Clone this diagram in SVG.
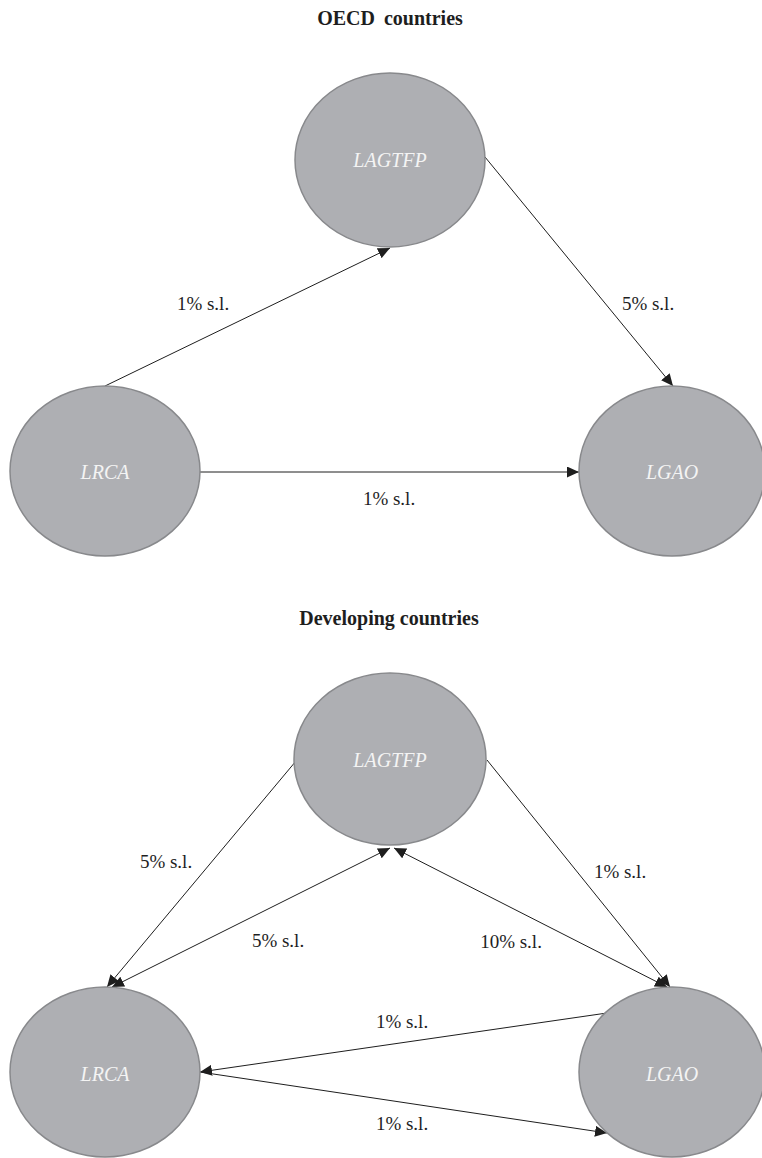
<svg xmlns="http://www.w3.org/2000/svg" width="762" height="1158" viewBox="0 0 762 1158">
<style>
.node ellipse{fill:#aeafb3;stroke:#88898c;stroke-width:1.5}
.node text{font-family:"Liberation Serif","Times New Roman",serif;font-style:italic;font-size:20px;fill:#f4f4f4;text-anchor:middle}
.title{font-family:"Liberation Serif","Times New Roman",serif;font-weight:bold;font-size:20px;fill:#1e1e1e;text-anchor:middle}
.lbl{font-family:"Liberation Serif","Times New Roman",serif;font-size:19px;fill:#1e1e1e;text-anchor:middle}
#connectors line{stroke:#1e1e1e;stroke-width:1}
</style>
<defs>
<marker id="ah" viewBox="0 0 12 11" refX="12" refY="5.5" markerWidth="12" markerHeight="11" markerUnits="userSpaceOnUse" orient="auto-start-reverse">
<path d="M0,0 L12,5.5 L0,11 Z" fill="#1e1e1e"/>
</marker>
</defs>
<rect width="762" height="1158" fill="#ffffff"/>
<text class="title" x="390" y="25" word-spacing="4">OECD countries</text>
<text class="title" x="389" y="625">Developing countries</text>

<g id="connectors">
<line x1="105" y1="386" x2="390" y2="248" marker-end="url(#ah)"/>
<line x1="485" y1="157" x2="673" y2="386" marker-end="url(#ah)"/>
<line x1="200" y1="472" x2="579" y2="472" marker-end="url(#ah)"/>
<line x1="296" y1="761" x2="107" y2="987" marker-end="url(#ah)"/>
<line x1="112" y1="987" x2="390" y2="848" marker-start="url(#ah)" marker-end="url(#ah)"/>
<line x1="487" y1="760" x2="670" y2="987" marker-end="url(#ah)"/>
<line x1="667" y1="987" x2="394" y2="848" marker-start="url(#ah)" marker-end="url(#ah)"/>
<line x1="607" y1="1013" x2="200" y2="1072" marker-end="url(#ah)"/>
<line x1="200" y1="1072" x2="607" y2="1133" marker-end="url(#ah)"/>
</g>

<g id="oecd-lagtfp" class="node"><ellipse cx="390" cy="160" rx="95" ry="87"/><text x="390" y="167">LAGTFP</text></g>
<g id="oecd-lrca" class="node"><ellipse cx="105" cy="471" rx="95" ry="85"/><text x="105" y="479">LRCA</text></g>
<g id="oecd-lgao" class="node"><ellipse cx="672" cy="471" rx="93" ry="85"/><text x="672" y="479">LGAO</text></g>

<g id="dev-lagtfp" class="node"><ellipse cx="390" cy="759" rx="96" ry="86"/><text x="390" y="767">LAGTFP</text></g>
<g id="dev-lrca" class="node"><ellipse cx="105" cy="1072" rx="95" ry="85"/><text x="105" y="1081">LRCA</text></g>
<g id="dev-lgao" class="node"><ellipse cx="672" cy="1072" rx="93" ry="85"/><text x="672" y="1081">LGAO</text></g>

<g id="labels">
<text class="lbl" x="203" y="310">1% s.l.</text>
<text class="lbl" x="648" y="310">5% s.l.</text>
<text class="lbl" x="389" y="505">1% s.l.</text>
<text class="lbl" x="166" y="868">5% s.l.</text>
<text class="lbl" x="620" y="878">1% s.l.</text>
<text class="lbl" x="278" y="947">5% s.l.</text>
<text class="lbl" x="511" y="948">10% s.l.</text>
<text class="lbl" x="402" y="1028">1% s.l.</text>
<text class="lbl" x="402" y="1130">1% s.l.</text>
</g>
</svg>
